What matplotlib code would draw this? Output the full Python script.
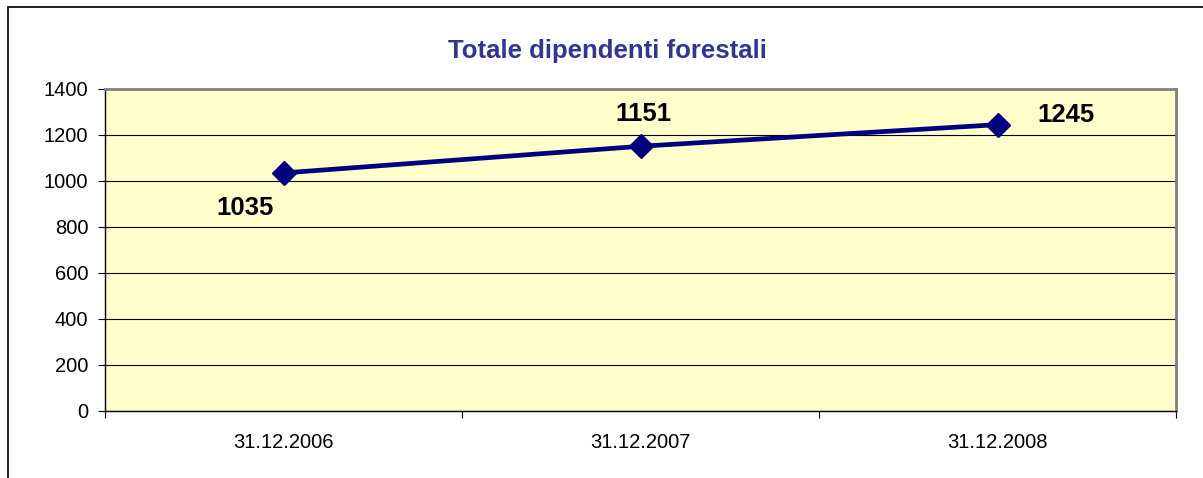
import matplotlib
matplotlib.use("Agg")
import matplotlib.pyplot as plt
from matplotlib.patches import Rectangle

dates = ["31.12.2006", "31.12.2007", "31.12.2008"]
dipendenti = [1035, 1151, 1245]
y_ticks = [0, 200, 400, 600, 800, 1000, 1200, 1400]
title = "Totale dipendenti forestali"

plt.rcParams["font.family"] = ["Liberation Sans", "DejaVu Sans"]

W, H = 1203, 478
fig = plt.figure(figsize=(W / 100, H / 100), dpi=100)
fig.patch.set_facecolor("white")

# outer chart frame
fig.patches.append(Rectangle((8 / W, -0.1), 2.0, (H - 7.5) / H + 0.1,
                             transform=fig.transFigure, fill=False,
                             edgecolor="#222222", linewidth=1.4))

ax = fig.add_axes([105 / W, (H - 411) / H, (1176 - 105) / W, (411 - 89) / H])
ax.set_facecolor("#FFFFCC")

x = list(range(len(dates)))
ax.plot(x, dipendenti, color="#000080", linewidth=3.4, marker="D",
        markersize=12.5, markerfacecolor="#000080", markeredgecolor="#000080",
        zorder=3, clip_on=False)

ax.set_xlim(-0.5, len(dates) - 0.5)
ax.set_ylim(0, 1400)
ax.set_yticks(y_ticks)
ax.yaxis.grid(True, color="black", linewidth=0.8)
ax.set_axisbelow(True)
ax.tick_params(axis="y", direction="out", length=5, width=0.8, pad=7,
               labelsize=14.5, colors="black")

# category boundary ticks, labels centred in each category
ax.set_xticks([i - 0.5 for i in range(len(dates) + 1)])
ax.set_xticklabels([])
ax.set_xticks(x, minor=True)
ax.set_xticklabels(dates, minor=True)
ax.tick_params(axis="x", which="major", direction="out", length=5, width=0.8)
ax.tick_params(axis="x", which="minor", length=0, pad=16, labelsize=14.5)

for side in ("left", "bottom"):
    ax.spines[side].set_color("black")
    ax.spines[side].set_linewidth(1.0)
for side in ("top", "right"):
    ax.spines[side].set_color("#808080")
    ax.spines[side].set_linewidth(2.0)

# value labels: below, above, right
offsets = [(-28, -25), (2, 23), (49, 7)]
for xi, v, off in zip(x, dipendenti, offsets):
    ax.annotate(str(v), (xi, v), xytext=off, textcoords="offset points",
                ha="center", va="center", fontsize=18.5, fontweight="bold",
                color="black")

fig.text(607 / W, 1 - 51 / H, title, ha="center", va="center",
         fontsize=18.5, fontweight="bold", color="#333399")

fig.savefig("out.png", dpi=100)
